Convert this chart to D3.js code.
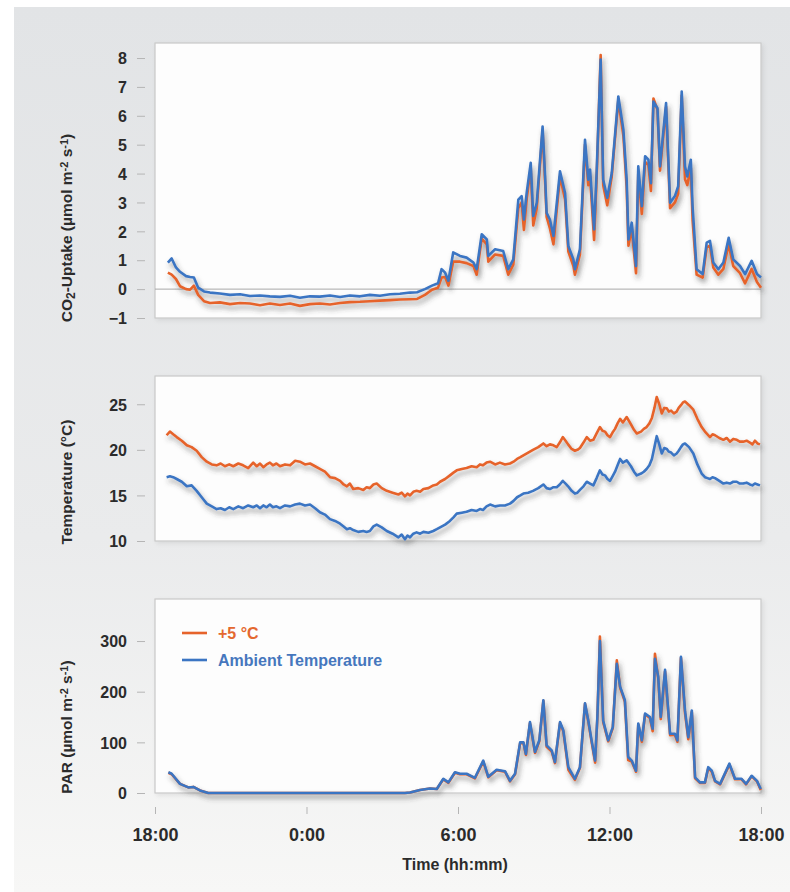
<!DOCTYPE html>
<html>
<head>
<meta charset="utf-8">
<script src="https://cdn.jsdelivr.net/npm/d3@7"></script>
<style>
  html, body { margin: 0; padding: 0; background: #fff; }
  svg { display: block; font-family: 'Liberation Sans Narrow', 'Liberation Sans', Arial, sans-serif; font-weight: bold; }
  .tick text { fill: #2b2b2b; }
</style>
</head>
<body>
<svg id="chart" width="790" height="892"></svg>
<script>
// hours after 18:00
const co2Hours = [0.51, 0.66, 0.83, 0.99, 1.23, 1.39, 1.54, 1.71, 1.94, 2.18, 2.57, 2.97, 3.37, 3.76, 4.16, 4.55,
  4.95, 5.35, 5.74, 6.14, 6.53, 6.93, 7.33, 7.72, 8.12, 8.51, 8.91, 9.31, 9.70, 10.10, 10.38, 10.69, 10.97, 11.21,
  11.35, 11.49, 11.62, 11.81, 12.08, 12.34, 12.61, 12.74, 12.94, 13.14, 13.20, 13.47, 13.79, 13.99, 14.19, 14.39,
  14.52, 14.61, 14.72, 14.88, 14.98, 15.12, 15.35, 15.45, 15.51, 15.64, 15.78, 16.04, 16.24, 16.37, 16.57, 16.63,
  16.83, 17.03, 17.16, 17.23, 17.39, 17.49, 17.65, 17.75, 17.91, 18.09, 18.35, 18.55, 18.68, 18.75, 18.88, 19.05,
  19.14, 19.28, 19.41, 19.54, 19.64, 19.74, 19.90, 20.00, 20.24, 20.40, 20.59, 20.72, 20.86, 20.99, 21.08, 21.22,
  21.29, 21.45, 21.69, 21.85, 21.98, 22.11, 22.31, 22.51, 22.72, 22.90, 23.17, 23.37, 23.63, 23.84, 24.00];
const co2Ambient = [0.92, 1.06, 0.75, 0.6, 0.45, 0.42, 0.4, 0.05, -0.08, -0.12, -0.15, -0.2, -0.18, -0.24, -0.22, -0.25,
  -0.27, -0.23, -0.3, -0.25, -0.26, -0.22, -0.27, -0.22, -0.25, -0.2, -0.23, -0.18, -0.16, -0.12, -0.11, 0.0, 0.12, 0.2,
  0.69, 0.57, 0.29, 1.27, 1.15, 1.09, 0.92, 0.69, 1.9, 1.72, 1.15, 1.38, 1.32, 0.69, 1.03, 3.1,
  3.22, 2.41, 3.33, 4.37, 2.53, 2.99, 5.63, 3.9, 2.64, 2.41, 1.84, 4.08, 3.33, 1.49, 1.03, 0.69,
  1.38, 5.17, 3.79, 4.14, 2.07, 4.02, 7.95, 3.79, 3.16, 4.02, 6.67, 5.52, 3.79, 1.72, 2.3, 0.8,
  4.25, 2.87, 4.6, 4.48, 3.67, 6.49, 6.26, 4.25, 6.44, 2.99, 3.22, 3.56, 6.84, 4.25, 3.9, 4.48,
  2.87, 0.69, 0.52, 1.61, 1.67, 0.92, 0.69, 0.92, 1.78, 1.03, 0.8, 0.52, 0.98, 0.52, 0.4];
const co2Warm = [0.57, 0.5, 0.35, 0.1, 0.0, -0.02, 0.12, -0.2, -0.42, -0.48, -0.46, -0.52, -0.48, -0.5, -0.56, -0.5,
  -0.55, -0.5, -0.58, -0.52, -0.5, -0.53, -0.48, -0.45, -0.44, -0.42, -0.4, -0.38, -0.36, -0.35, -0.34, -0.2, -0.02, 0.05,
  0.4, 0.42, 0.12, 0.95, 0.95, 0.9, 0.8, 0.5, 1.75, 1.55, 0.95, 1.2, 1.15, 0.5, 0.85, 2.8,
  3.0, 2.05, 3.1, 4.2, 2.2, 2.8, 5.5, 3.7, 2.5, 2.1, 1.55, 3.9, 3.1, 1.3, 0.8, 0.5,
  1.2, 5.0, 3.6, 3.9, 1.7, 3.8, 8.1, 3.6, 2.9, 3.9, 6.55, 5.3, 3.5, 1.5, 2.1, 0.55,
  4.0, 2.6, 4.4, 4.3, 3.4, 6.6, 6.2, 4.1, 6.3, 2.8, 3.0, 3.3, 6.7, 3.8, 3.6, 4.2,
  2.4, 0.5, 0.4, 1.45, 1.5, 0.75, 0.5, 0.7, 1.55, 0.8, 0.55, 0.2, 0.7, 0.25, 0.05];

const tempHours = [
  0.46, 0.59, 0.72, 0.86, 1.06, 1.26, 1.45, 1.65, 1.85, 2.05,
  2.25, 2.44, 2.60, 2.77, 2.94, 3.10, 3.30, 3.49, 3.69, 3.89,
  4.03, 4.16, 4.29, 4.42, 4.55, 4.67, 4.81, 4.95, 5.15, 5.35,
  5.55, 5.74, 5.94, 6.14, 6.34, 6.53, 6.73, 6.93, 7.13, 7.33,
  7.47, 7.60, 7.72, 7.85, 8.05, 8.25, 8.38, 8.51, 8.65, 8.78,
  8.98, 9.18, 9.41, 9.64, 9.77, 9.90, 10.00, 10.10, 10.23, 10.36,
  10.50, 10.63, 10.83, 11.02, 11.16, 11.29, 11.49, 11.68, 11.82, 11.95,
  12.15, 12.34, 12.54, 12.74, 12.87, 12.99, 13.13, 13.27, 13.47, 13.66,
  13.86, 14.06, 14.20, 14.34, 14.47, 14.59, 14.78, 14.97, 15.18, 15.38,
  15.51, 15.64, 15.78, 15.91, 16.03, 16.15, 16.26, 16.36, 16.50, 16.63,
  16.73, 16.83, 16.97, 17.10, 17.23, 17.36, 17.49, 17.62, 17.72, 17.82,
  17.92, 18.02, 18.12, 18.22, 18.32, 18.42, 18.53, 18.68, 18.85, 18.97,
  19.08, 19.25, 19.36, 19.47, 19.58, 19.68, 19.78, 19.87, 19.97, 20.07,
  20.17, 20.27, 20.35, 20.44, 20.55, 20.66, 20.74, 20.83, 20.91, 20.99,
  21.15, 21.32, 21.48, 21.65, 21.78, 21.88, 21.98, 22.08, 22.18, 22.35,
  22.51, 22.64, 22.77, 22.90, 23.04, 23.16, 23.29, 23.43, 23.56, 23.66,
  23.76, 23.86, 23.96];
const tempWarm = [
  21.6, 22.0, 21.7, 21.4, 21.0, 20.5, 20.3, 19.9, 19.2, 18.7,
  18.4, 18.3, 18.5, 18.2, 18.4, 18.2, 18.5, 18.3, 18.0, 18.6,
  18.2, 18.5, 18.1, 18.4, 18.6, 18.3, 18.5, 18.2, 18.4, 18.3,
  18.8, 18.7, 18.4, 18.5, 18.2, 17.9, 17.6, 17.0, 16.9, 16.6,
  16.2, 16.0, 16.3, 15.7, 15.8, 15.6, 15.9, 15.8, 16.2, 16.3,
  15.8, 15.5, 15.3, 15.1, 15.3, 14.9, 15.2, 15.0, 15.4, 15.5,
  15.4, 15.7, 15.8, 16.1, 16.2, 16.5, 16.8, 17.2, 17.5, 17.75,
  17.9, 18.0, 18.2, 18.1, 18.4, 18.3, 18.6, 18.7, 18.4, 18.6,
  18.4, 18.5, 18.7, 19.0, 19.2, 19.4, 19.7, 20.0, 20.3, 20.7,
  20.4, 20.6, 20.5, 20.3, 20.8, 21.4, 21.0, 20.6, 20.1, 19.9,
  20.0, 20.2, 20.8, 21.4, 21.0, 21.1, 21.8, 22.5, 22.1, 22.0,
  21.6, 21.4, 21.9, 22.3, 22.9, 23.4, 23.0, 23.6, 22.8, 22.2,
  21.8, 22.0, 22.3, 22.5, 22.9, 23.5, 24.6, 25.8, 25.0, 24.0,
  24.6, 24.55, 24.2, 24.3, 24.0, 24.2, 24.6, 24.9, 25.2, 25.3,
  24.9, 24.4, 23.4, 22.5, 22.0, 21.7, 21.4, 21.7, 21.6, 21.3,
  21.1, 21.3, 20.9, 21.2, 21.1, 20.9, 20.9, 21.0, 20.8, 20.6,
  21.0, 20.7, 20.6];
const tempAmbient = [
  17.0, 17.1, 17.0, 16.8, 16.5, 16.0, 16.1, 15.5, 14.8, 14.1,
  13.8, 13.5, 13.6, 13.4, 13.7, 13.5, 13.8, 13.6, 13.9, 13.7,
  13.9, 13.6, 13.9, 13.7, 14.0, 13.7, 13.8, 13.6, 13.9, 13.8,
  14.0, 14.1, 13.9, 14.0, 13.6, 13.15, 12.9, 12.4, 12.2, 11.9,
  11.6, 11.3, 11.4, 11.2, 11.0, 11.1, 11.0, 11.1, 11.6, 11.8,
  11.5, 11.1, 10.8, 10.4, 10.7, 10.2, 10.6, 10.4, 10.8, 10.95,
  10.8, 11.0, 10.9, 11.1, 11.3, 11.5, 11.8, 12.2, 12.6, 13.0,
  13.1, 13.2, 13.4, 13.3, 13.5, 13.4, 13.8, 14.0, 13.8, 13.9,
  13.9, 14.1, 14.4, 14.8, 15.0, 15.2, 15.3, 15.5, 15.8, 16.2,
  15.8, 15.7, 15.9, 15.9, 16.2, 16.6, 16.3, 16.0, 15.5, 15.2,
  15.3, 15.6, 16.0, 16.5, 16.3, 16.1, 16.9, 17.75, 17.3, 17.2,
  16.8, 16.6, 17.1, 17.6, 18.3, 19.0, 18.6, 18.85, 18.2, 17.6,
  17.2, 17.4, 17.6, 17.9, 18.3, 19.0, 20.3, 21.5, 20.6, 19.6,
  20.2, 20.1, 19.8, 19.7, 19.4, 19.6, 19.9, 20.3, 20.6, 20.7,
  20.3, 19.6, 18.4, 17.4, 17.0, 16.9, 16.8, 17.0, 16.9, 16.6,
  16.3, 16.4, 16.3, 16.5, 16.5, 16.3, 16.3, 16.4, 16.2, 16.1,
  16.3, 16.2, 16.1];

const parHours = [0.53, 0.66, 0.99, 1.32, 1.52, 1.78, 2.11, 9.90, 10.10, 10.50, 10.89, 11.16, 11.42, 11.62, 11.88,
  12.08, 12.34, 12.67, 13.00, 13.20, 13.53, 13.86, 14.06, 14.26, 14.46, 14.59, 14.69, 14.85, 15.05, 15.22, 15.38,
  15.51, 15.71, 15.84, 16.04, 16.17, 16.37, 16.63, 16.83, 17.03, 17.16, 17.29, 17.43, 17.52, 17.62, 17.75, 17.95,
  18.13, 18.29, 18.42, 18.61, 18.74, 18.88, 19.05, 19.14, 19.28, 19.41, 19.60, 19.71, 19.80, 19.93, 20.03, 20.20,
  20.40, 20.59, 20.69, 20.83, 20.99, 21.12, 21.26, 21.39, 21.58, 21.78, 21.91, 22.05, 22.18, 22.38, 22.75, 22.97,
  23.23, 23.41, 23.63, 23.84, 23.99];
const parAmbient = [41, 38, 18, 11, 12, 5, 0, 0, 1, 6, 9, 8, 28, 21, 41,
  38, 38, 30, 64, 32, 46, 43, 24, 38, 100, 100, 77, 140, 81, 104, 183,
  94, 84, 61, 140, 124, 51, 28, 51, 177, 143, 104, 64, 150, 300, 143, 104,
  130, 255, 210, 183, 71, 64, 44, 137, 104, 157, 150, 127, 265, 229, 150, 243,
  117, 117, 104, 269, 163, 110, 163, 31, 21, 21, 51, 44, 24, 18, 58, 28,
  28, 18, 34, 24, 8];
const parWarm = [40, 37, 18, 11, 12, 5, 0, 0, 1, 6, 9, 8, 27, 20, 40,
  37, 37, 29, 62, 31, 45, 42, 23, 37, 98, 99, 75, 138, 79, 102, 182,
  91, 82, 59, 138, 122, 46, 26, 50, 176, 141, 101, 60, 148, 309, 140, 102,
  128, 262, 208, 180, 65, 62, 42, 135, 101, 155, 148, 122, 275, 226, 146, 240,
  114, 115, 101, 267, 158, 106, 160, 29, 20, 20, 49, 42, 23, 17, 56, 27,
  27, 17, 33, 23, 6];

const co2Ticks  = [-1, 0, 1, 2, 3, 4, 5, 6, 7, 8];
const tempTicks = [10, 15, 20, 25];
const parTicks  = [0, 100, 200, 300];
const timeTicks = [0, 6, 12, 18, 24];
const timeTickLabels = ['18:00', '0:00', '6:00', '12:00', '18:00'];
const seriesNames = ['+5 °C', 'Ambient Temperature'];

const WARM = '#e6632b';
const AMBIENT = '#3b75c3';
const LEFT = 155, RIGHT = 761;

const svg = d3.select('#chart');
const defs = svg.append('defs');

const bg = defs.append('linearGradient').attr('id', 'bg')
  .attr('x1', 0).attr('y1', 0).attr('x2', 0).attr('y2', 1);
bg.append('stop').attr('offset', '0%').attr('stop-color', '#e2e4e6');
bg.append('stop').attr('offset', '60%').attr('stop-color', '#eaebec');
bg.append('stop').attr('offset', '100%').attr('stop-color', '#f7f7f6');

const shadow = defs.append('filter').attr('id', 'shadow')
  .attr('x', '-5%').attr('y', '-10%').attr('width', '115%').attr('height', '140%');
shadow.append('feDropShadow')
  .attr('dx', 2).attr('dy', 4).attr('stdDeviation', 2.6)
  .attr('flood-color', '#3c3c3c').attr('flood-opacity', 0.5);

const boxShadow = defs.append('filter').attr('id', 'boxShadow')
  .attr('x', '-2%').attr('y', '-2%').attr('width', '105%').attr('height', '106%');
boxShadow.append('feDropShadow')
  .attr('dx', 2).attr('dy', 2).attr('stdDeviation', 2)
  .attr('flood-color', '#000').attr('flood-opacity', 0.08);

svg.append('rect')
  .attr('x', 14).attr('y', 7).attr('width', 776).attr('height', 885)
  .attr('fill', 'url(#bg)');

const x = d3.scaleLinear().domain([0, 24]).range([LEFT, RIGHT]);

const panels = [
  { top: 43,  bottom: 318, domain: [-1, 8.52], ticks: co2Ticks,  hours: co2Hours,  warm: co2Warm,  ambient: co2Ambient,  zeroLine: true,
    title: [['CO', 0], ['2', 'sub'], ['-Uptake (µmol m', 0], ['-2', 'sup'], [' s', 0], ['-1', 'sup'], [')', 0]], titleY: 228 },
  { top: 376, bottom: 541, domain: [10, 28.1], ticks: tempTicks, hours: tempHours, warm: tempWarm, ambient: tempAmbient,
    title: [['Temperature (°C)', 0]], titleY: 482 },
  { top: 599, bottom: 793, domain: [0, 383],   ticks: parTicks,  hours: parHours,  warm: parWarm,  ambient: parAmbient,
    title: [['PAR (µmol m', 0], ['-2', 'sup'], [' s', 0], ['-1', 'sup'], [')', 0]], titleY: 727 }
];

function drawPanel(p) {
  const y = d3.scaleLinear().domain(p.domain).range([p.bottom, p.top]);
  const g = svg.append('g');

  g.append('rect')
    .attr('x', LEFT).attr('y', p.top)
    .attr('width', RIGHT - LEFT).attr('height', p.bottom - p.top)
    .attr('fill', '#fdfdfd').attr('stroke', '#c9c9c9').attr('stroke-width', 1.2)
    .attr('filter', 'url(#boxShadow)');

  if (p.zeroLine) {
    g.append('line')
      .attr('x1', LEFT).attr('x2', RIGHT)
      .attr('y1', y(0)).attr('y2', y(0))
      .attr('stroke', '#a8a8a8').attr('stroke-width', 1);
  }

  const axis = g.append('g')
    .attr('transform', `translate(${LEFT - 10},0)`)
    .call(d3.axisLeft(y).tickValues(p.ticks).tickSize(8).tickPadding(10).tickFormat(d3.format('d')));
  axis.select('.domain').remove();
  axis.selectAll('.tick line').attr('stroke', '#b5b5b5');
  axis.selectAll('.tick text').attr('font-size', 16).attr('dy', '0.36em');

  const title = g.append('text')
    .attr('transform', `translate(72,${p.titleY}) rotate(-90)`)
    .attr('text-anchor', 'middle')
    .attr('font-size', 15.5)
    .attr('fill', '#2b2b2b');
  p.title.forEach(([txt, shift]) => {
    const ts = title.append('tspan').text(txt);
    if (shift === 'sub') ts.attr('baseline-shift', '-25%').attr('font-size', 12);
    if (shift === 'sup') ts.attr('baseline-shift', '40%').attr('font-size', 11);
  });

  const line = (vals) => d3.line()
    .x((d, i) => x(p.hours[i]))
    .y(d => y(d))(vals);

  const lines = g.append('g').attr('filter', 'url(#shadow)');
  lines.append('path')
    .attr('d', line(p.warm))
    .attr('fill', 'none').attr('stroke', WARM)
    .attr('stroke-width', 2.6).attr('stroke-linejoin', 'round');
  lines.append('path')
    .attr('d', line(p.ambient))
    .attr('fill', 'none').attr('stroke', AMBIENT)
    .attr('stroke-width', 2.6).attr('stroke-linejoin', 'round');

  return g;
}

const groups = panels.map(drawPanel);

// legend, inside the PAR panel
const legend = groups[2].append('g')
  .selectAll('g')
  .data(seriesNames)
  .enter().append('g')
    .attr('transform', (d, i) => `translate(182,${633 + i * 27})`);
legend.append('line')
  .attr('x1', 0).attr('x2', 25)
  .attr('stroke', (d, i) => i ? AMBIENT : WARM).attr('stroke-width', 2.6);
legend.append('text')
  .attr('x', 36).attr('dy', '0.36em')
  .attr('font-size', 16)
  .attr('fill', (d, i) => i ? '#4677bd' : '#e4682f')
  .text(d => d);

// time axis
const xAxis = svg.append('g')
  .attr('transform', 'translate(0,807)')
  .call(d3.axisBottom(x).tickValues(timeTicks).tickSize(7).tickPadding(14)
    .tickFormat((d, i) => timeTickLabels[i]));
xAxis.select('.domain').remove();
xAxis.selectAll('.tick line').attr('stroke', '#b5b5b5');
xAxis.selectAll('.tick text').attr('font-size', 18);

svg.append('text')
  .attr('x', 455).attr('y', 870)
  .attr('text-anchor', 'middle')
  .attr('font-size', 16)
  .attr('fill', '#2b2b2b')
  .text('Time (hh:mm)');
</script>
</body>
</html>
